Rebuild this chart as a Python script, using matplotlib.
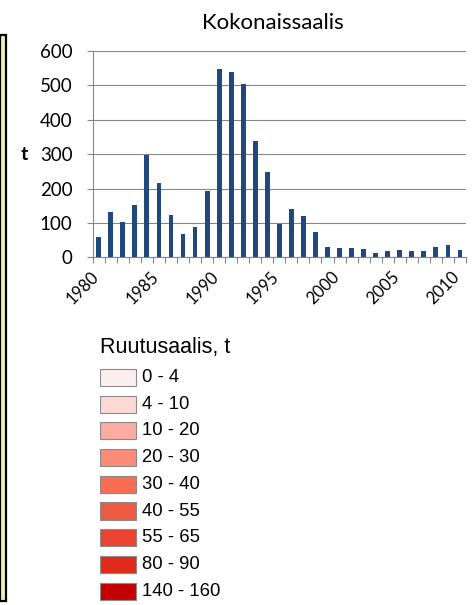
import matplotlib
matplotlib.use("Agg")
import matplotlib.pyplot as plt
import matplotlib.transforms as mtransforms
from matplotlib.patches import Rectangle
import numpy as np

years = list(range(1980, 2011))
catch = [58, 131, 102, 151, 298, 216, 122, 67, 87, 193,
         548, 538, 505, 338, 248, 97, 140, 120, 73, 30,
         27, 27, 24, 12, 18, 21, 18, 18, 30, 36, 21]
label_years = [1980, 1985, 1990, 1995, 2000, 2005, 2010]
y_ticks = [0, 100, 200, 300, 400, 500, 600]

class_labels = ["0 - 4", "4 - 10", "10 - 20", "20 - 30", "30 - 40",
                "40 - 55", "55 - 65", "80 - 90", "140 - 160"]
class_colors = ["#fdeeee", "#fdd9d5", "#fcaba0", "#fc8b78", "#fa6d55",
                "#f05a45", "#ea4330", "#e02a1a", "#c40000"]

W, H = 473, 605
fig = plt.figure(figsize=(W / 100, H / 100), dpi=100)


def fx(px):
    return px / W


def fy(py):
    return 1 - py / H


# map frame remnant on the left edge
fig.patches.append(Rectangle((0, fy(601)), fx(6), fy(35) - fy(601), transform=fig.transFigure,
                             facecolor="#eef3b4", edgecolor="black", linewidth=1.6))

# bar chart
ax = fig.add_axes([fx(92.7), fy(257.3), fx(466) - fx(92.7), fy(51) - fy(257.3)])
ax.bar(years, catch, width=0.4, color="#1f497d", zorder=3)
ax.set_xlim(1979.5, 2010.5)
ax.set_ylim(0, 600)
ax.set_yticks(y_ticks)
ax.set_xticks(label_years)
ax.set_xticks(np.arange(1979.5, 2011, 1), minor=True)
ax.grid(axis="y", color="#868686", linewidth=0.8, zorder=0)
for s in ["top", "right"]:
    ax.spines[s].set_visible(False)
for s in ["left", "bottom"]:
    ax.spines[s].set_color("#868686")
    ax.spines[s].set_linewidth(0.8)

ax.tick_params(axis="y", length=4.5, color="#868686", width=0.8, pad=10,
               labelsize=13.5, labelfontfamily="Lato")
ax.tick_params(axis="x", which="major", length=0, pad=8.4, labelsize=12,
               labelfontfamily="Lato")
ax.tick_params(axis="x", which="minor", length=4.5, color="#868686", width=0.8)
shift = mtransforms.ScaledTranslation(3 / 100, 0, fig.dpi_scale_trans)
for lab in ax.get_xticklabels():
    lab.set_rotation(45)
    lab.set_ha("right")
    lab.set_va("top")
    lab.set_transform(lab.get_transform() + shift)

fig.text(fx(273), fy(29), "Kokonaissaalis", ha="center", va="baseline",
         fontsize=16, family="Lato")
fig.text(fx(24), fy(154), "t", ha="center", va="center", fontsize=14,
         fontweight="bold", family="Lato")

# legend
fig.text(fx(100), fy(353), "Ruutusaalis, t", ha="left", va="baseline",
         fontsize=15.5, family="Liberation Sans")
step = 26.7
lax = fig.add_axes([fx(100), fy(364.15 + step * 9), fx(300) - fx(100), step * 9 / H])
lax.set_xlim(0, 200)
lax.set_ylim(8.5, -0.5)
lax.axis("off")
rows = np.arange(len(class_labels))
lax.barh(rows, 35.7, left=0, height=17 / step, color=class_colors,
         edgecolor="#8a8a8a", linewidth=0.8)
for i, lab in zip(rows, class_labels):
    lax.text(41.7, i, lab, ha="left", va="center", fontsize=13.3,
             family="Liberation Sans")

fig.savefig("out.png", dpi=100)
